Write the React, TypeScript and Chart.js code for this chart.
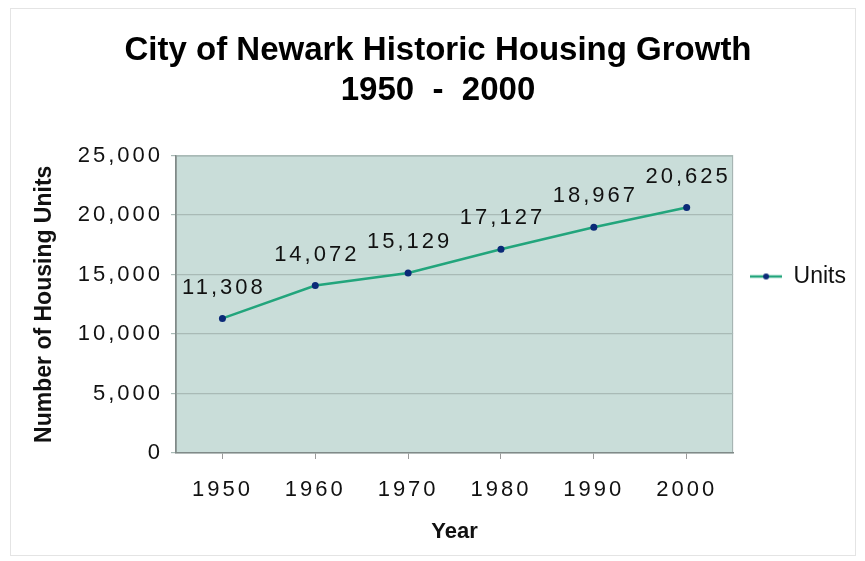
import React, { useEffect, useRef } from 'react';
import { Chart, registerables } from 'chart.js';

Chart.register(...registerables);

const years = ['1950', '1960', '1970', '1980', '1990', '2000'];
const units = [11308, 14072, 15129, 17127, 18967, 20625];
const yTickValues = [0, 5000, 10000, 15000, 20000, 25000];
const titleLines = ['City of Newark Historic Housing Growth', '1950  -  2000'];
const seriesName = 'Units';
const xTitle = 'Year';
const yTitle = 'Number of Housing Units';

const LINE_COLOR = '#22a57c';
const POINT_COLOR = '#0b2a78';
const PLOT_BG = '#c9ddd9';
const FONT = "'Liberation Sans', Arial, Helvetica, sans-serif";
const fmt = (v: number) => v.toLocaleString('en-US');

const decorPlugin = {
  id: 'decor',
  beforeDraw(chart: any) {
    const { ctx, chartArea, width, height } = chart;
    ctx.save();
    ctx.fillStyle = '#ffffff';
    ctx.fillRect(0, 0, width, height);
    ctx.strokeStyle = '#e4e4e4';
    ctx.lineWidth = 1;
    ctx.strokeRect(10.5, 8.5, width - 20, height - 14);
    ctx.fillStyle = PLOT_BG;
    ctx.fillRect(chartArea.left, chartArea.top, chartArea.right - chartArea.left, chartArea.bottom - chartArea.top);
    ctx.strokeStyle = '#a3b1ae';
    ctx.strokeRect(chartArea.left + 0.5, chartArea.top + 0.5, chartArea.right - chartArea.left - 1, chartArea.bottom - chartArea.top - 1);
    ctx.restore();
  },
  afterDatasetsDraw(chart: any) {
    const { ctx } = chart;
    const meta = chart.getDatasetMeta(0);
    ctx.save();
    (ctx as any).letterSpacing = '3px';
    ctx.font = `22px ${FONT}`;
    ctx.fillStyle = '#111111';
    ctx.textAlign = 'center';
    ctx.textBaseline = 'middle';
    meta.data.forEach((pt: any, i: number) => {
      ctx.fillText(fmt(units[i]), pt.x + 1.5, pt.y - 31);
    });
    ctx.restore();
    // tick labels are drawn after datasets (ticks.z = 1) with tracking
    (ctx as any).letterSpacing = '3px';
  },
  afterDraw(chart: any) {
    (chart.ctx as any).letterSpacing = '0px';
  },
};

export default function App() {
  const ref = useRef<HTMLCanvasElement | null>(null);

  useEffect(() => {
    document.body.style.margin = '0';
    const canvas = ref.current;
    if (!canvas) return;

    const legendIcon = document.createElement('canvas');
    legendIcon.width = 32;
    legendIcon.height = 10;
    const ictx = legendIcon.getContext('2d')!;
    ictx.strokeStyle = LINE_COLOR;
    ictx.lineWidth = 2.5;
    ictx.beginPath();
    ictx.moveTo(0, 5);
    ictx.lineTo(32, 5);
    ictx.stroke();
    ictx.fillStyle = POINT_COLOR;
    ictx.beginPath();
    ictx.arc(16, 5, 3, 0, Math.PI * 2);
    ictx.fill();

    const chart = new Chart(canvas, {
      type: 'line',
      data: {
        labels: years,
        datasets: [
          {
            label: seriesName,
            data: units,
            borderColor: LINE_COLOR,
            backgroundColor: POINT_COLOR,
            borderWidth: 2.5,
            pointRadius: 3.5,
            pointBackgroundColor: POINT_COLOR,
            pointBorderColor: POINT_COLOR,
            pointBorderWidth: 0,
            tension: 0,
          },
        ],
      },
      options: {
        responsive: false,
        animation: false,
        layout: { padding: { left: 20, right: 9, top: 0, bottom: 8 } },
        plugins: {
          title: {
            display: true,
            text: titleLines,
            color: '#000000',
            font: { family: FONT, size: 33, weight: 'bold', lineHeight: 1.22 },
            padding: { top: 31, bottom: 44 },
          },
          legend: {
            position: 'right',
            labels: {
              usePointStyle: true,
              pointStyle: legendIcon as any,
              pointStyleWidth: 32,
              padding: 17,
              color: '#111111',
              font: { family: FONT, size: 23 },
            },
          },
          tooltip: { enabled: false },
        },
        scales: {
          x: {
            type: 'category',
            offset: true,
            grid: {
              display: true,
              drawOnChartArea: false,
              drawTicks: true,
              tickLength: 6,
              color: '#9a9a9a',
            },
            border: { display: true, color: '#808a88', width: 1.5 },
            ticks: {
              z: 1,
              color: '#111111',
              padding: 18,
              font: { family: FONT, size: 22 },
              maxRotation: 0,
            },
            title: {
              display: true,
              text: xTitle,
              color: '#111111',
              font: { family: FONT, size: 22, weight: 'bold' },
              padding: { top: 4, bottom: 8 },
            },
            afterFit(scale: any) {
              scale.height = 100;
            },
          },
          y: {
            min: 0,
            max: 25000,
            afterBuildTicks(scale: any) {
              scale.ticks = yTickValues.map((v) => ({ value: v }));
            },
            grid: {
              color: '#a9bab6',
              lineWidth: 1.2,
              drawTicks: true,
              tickLength: 5,
            },
            border: { display: true, color: '#808a88', width: 1.5 },
            ticks: {
              z: 1,
              color: '#111111',
              padding: 8,
              font: { family: FONT, size: 22 },
              callback: (v: any) => fmt(Number(v)),
            },
            title: {
              display: true,
              text: yTitle,
              color: '#111111',
              font: { family: FONT, size: 23, weight: 'bold' },
              padding: { top: 11, bottom: 4 },
            },
            afterFit(scale: any) {
              scale.width = 156;
            },
          },
        },
      },
      plugins: [decorPlugin],
    });

    return () => {
      chart.destroy();
    };
  }, []);

  return (
    <div style={{ position: 'fixed', left: 0, top: 0, width: 865, height: 561, background: '#ffffff' }}>
      <canvas ref={ref} width={865} height={561} style={{ width: 865, height: 561, display: 'block' }} />
    </div>
  );
}
